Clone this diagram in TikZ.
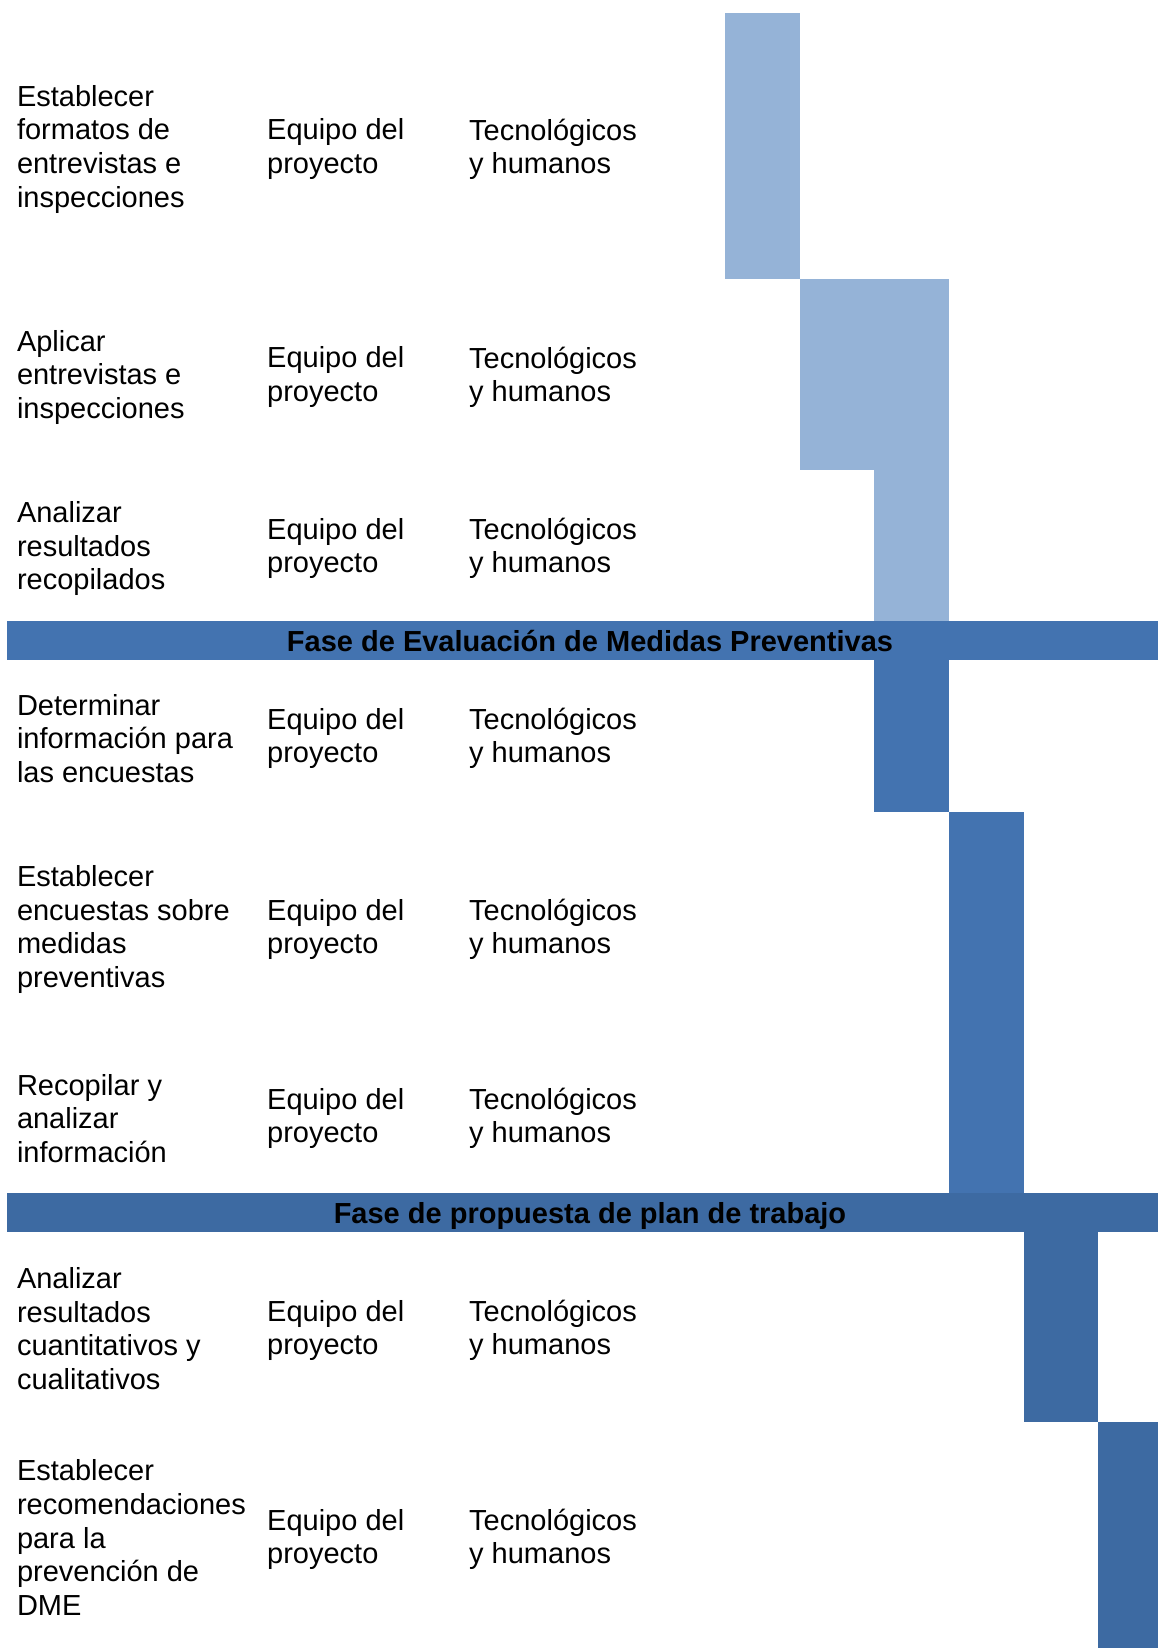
\documentclass[tikz,border=0pt]{standalone}
\usepackage{fontspec}
\setmainfont{Liberation Sans}
\definecolor{lightblue}{HTML}{95B3D7}
\definecolor{midblue}{HTML}{4373B0}
\definecolor{darkblue}{HTML}{3D6AA2}
\tikzset{
  task/.style={anchor=west, align=left, inner sep=0pt, font=\fontsize{29}{33.6}\selectfont},
  phase/.style={inner sep=0pt, font=\bfseries\fontsize{29}{33.6}\selectfont},
}
\begin{document}
\begin{tikzpicture}[x=1pt,y=-1pt]
\useasboundingbox (0,0) rectangle (1158,1648);
% light blocks
\fill[lightblue] (725.1,12.6) rectangle (799.7,278.5);
\fill[lightblue] (799.7,278.5) rectangle (948.9,469.7);
\fill[lightblue] (874.3,469.7) rectangle (948.9,621);
% medium blocks
\fill[midblue] (874.3,660) rectangle (948.9,812.3);
\fill[midblue] (948.9,812.3) rectangle (1023.5,1192.7);
% dark blocks
\fill[darkblue] (1023.5,1231.5) rectangle (1098.1,1421.7);
\fill[darkblue] (1098.1,1421.7) rectangle (1158,1648);
% phase headers
\fill[midblue] (7.4,621) rectangle (1158,660);
\node[phase] (ph1) at (590,641) {Fase de Evaluación de Medidas Preventivas};
\fill[darkblue] (7.4,1192.7) rectangle (1158,1231.5);
\node[phase] (ph2) at (590,1215.5) {Fase de propuesta de plan de trabajo};
% rows
\node[task] (a1) at (16.8,149.2) {Establecer\\formatos de\\entrevistas e\\inspecciones};
\node[task] (b1) at (267,149.2) {Equipo del\\proyecto};
\node[task] (c1) at (469,149.2) {Tecnológicos\\y humanos};
\node[task] (a2) at (16.8,377.2) {Aplicar\\entrevistas e\\inspecciones};
\node[task] (b2) at (267,377.2) {Equipo del\\proyecto};
\node[task] (c2) at (469,377.2) {Tecnológicos\\y humanos};
\node[task] (a3) at (16.8,548.5) {Analizar\\resultados\\recopilados};
\node[task] (b3) at (267,548.5) {Equipo del\\proyecto};
\node[task] (c3) at (469,548.5) {Tecnológicos\\y humanos};
\node[task] (a4) at (16.8,738.5) {Determinar\\información para\\las encuestas};
\node[task] (b4) at (267,738.5) {Equipo del\\proyecto};
\node[task] (c4) at (469,738.5) {Tecnológicos\\y humanos};
\node[task] (a5) at (16.8,929.5) {Establecer\\encuestas sobre\\medidas\\preventivas};
\node[task] (b5) at (267,929.5) {Equipo del\\proyecto};
\node[task] (c5) at (469,929.5) {Tecnológicos\\y humanos};
\node[task] (a6) at (16.8,1118.5) {Recopilar y\\analizar\\información};
\node[task] (b6) at (267,1118.5) {Equipo del\\proyecto};
\node[task] (c6) at (469,1118.5) {Tecnológicos\\y humanos};
\node[task] (a7) at (16.8,1328.5) {Analizar\\resultados\\cuantitativos y\\cualitativos};
\node[task] (b7) at (267,1330.5) {Equipo del\\proyecto};
\node[task] (c7) at (469,1330.5) {Tecnológicos\\y humanos};
\node[task] (a8) at (16.8,1537.5) {Establecer\\recomendaciones\\para la\\prevención de\\DME};
\node[task] (b8) at (267,1539.5) {Equipo del\\proyecto};
\node[task] (c8) at (469,1539.5) {Tecnológicos\\y humanos};
\end{tikzpicture}
\end{document}
